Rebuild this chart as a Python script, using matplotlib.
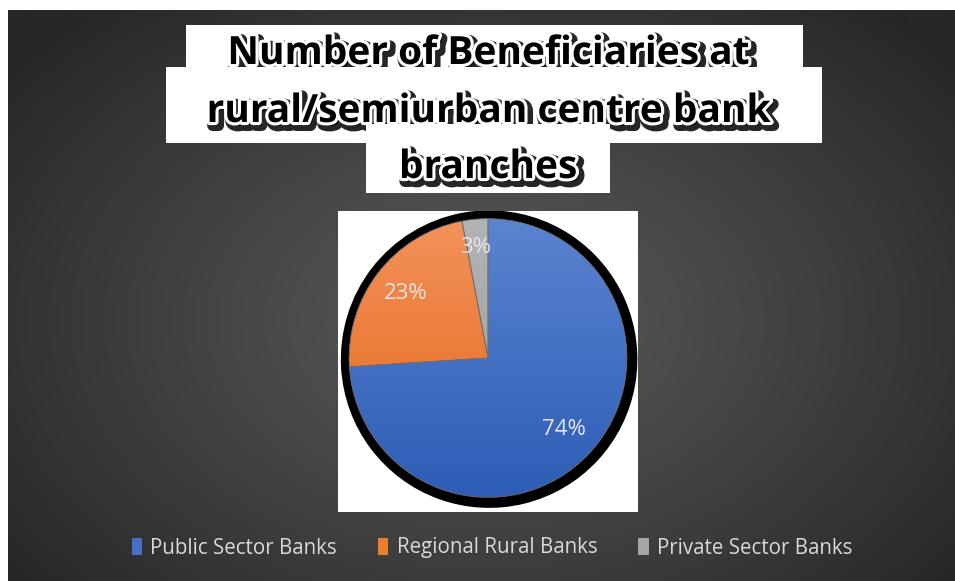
import matplotlib
matplotlib.use("Agg")
import matplotlib.pyplot as plt
import matplotlib.patheffects as pe
from matplotlib.patches import Rectangle, Wedge, Patch
import numpy as np

# data
categories = ["Public Sector Banks", "Regional Rural Banks", "Private Sector Banks"]
shares = [74, 23, 3]
title_lines = ["Number of Beneficiaries at", "rural/semiurban centre bank", "branches"]

# slice gradients (top colour, bottom colour)
grad_top = ["#5b84d0", "#f3925a", "#b3b3b3"]
grad_bot = ["#2d5db6", "#e4661a", "#9b9b9b"]
legend_cols = ["#4472c4", "#ed7d31", "#a5a5a5"]

W, H = 955, 581
fig = plt.figure(figsize=(W / 100, H / 100), dpi=100, facecolor="white")

# full-figure axes in pixel units for the backdrop and title boxes
bg = fig.add_axes([0, 0, 1, 1])
bg.set_xlim(0, W)
bg.set_ylim(H, 0)
bg.axis("off")

# radial grey gradient behind everything
yy, xx = np.mgrid[10:H, 8:W]
d = np.sqrt(((xx - 485) / 520.0) ** 2 + ((yy - 320) / 360.0) ** 2)
v = 0x5a - (0x5a - 0x27) * np.clip(d / 1.15, 0, 1) ** 1.1
img = np.dstack([v, v, v]) / 255.0
bg.imshow(img, extent=[8, W, H, 10], aspect="auto", zorder=0, interpolation="bilinear")

title_fx = [
    pe.Stroke(linewidth=8, foreground="black", offset=(2.2, -2.5), alpha=0.85),
    pe.Stroke(linewidth=4.5, foreground="white"),
    pe.Normal(),
]
boxes = [(186, 25, 617, 42), (166, 67, 656, 76), (366, 124, 244, 69)]
baselines = [64, 122, 178]
for i, (line, box, yb) in enumerate(zip(title_lines, boxes, baselines)):
    bg.add_patch(Rectangle(box[:2], box[2], box[3], facecolor="white",
                           edgecolor="none", zorder=1 + 2 * i))
    bg.text(488, yb, line, ha="center", va="baseline", family="Open Sans",
            fontweight="bold", fontsize=28, color="black",
            path_effects=title_fx, zorder=2 + 2 * i)

# pie area
ax = fig.add_axes([338 / W, 1 - 512 / H, 300 / W, 301 / H])
center = (0.0, 0.025)
wedges, _, autotexts = ax.pie(
    shares, startangle=90, counterclock=False, center=center, radius=1.0,
    colors=legend_cols, autopct="%d%%", pctdistance=0.75,
    wedgeprops=dict(edgecolor="none", linewidth=0),
    textprops=dict(color="#e6e6e6", fontsize=16, family="Open Sans"),
)
ax.set_frame_on(True)
ax.set_facecolor("white")
for s in ax.spines.values():
    s.set_visible(False)
ax.set_xticks([])
ax.set_yticks([])
ax.set_xlim(-1.08, 1.08)
ax.set_ylim(-1.08, 1.08)
ax.set_aspect("auto")

# black halo behind each slice
for w in wedges:
    ax.add_patch(Wedge((center[0] + 0.008, center[1] - 0.008), 1.06, w.theta1, w.theta2,
                       facecolor="black", edgecolor="black", linewidth=1.5, zorder=0.5))

# vertical gradient fill clipped to each slice
for w, c0, c1 in zip(wedges, grad_top, grad_bot):
    a = np.array(matplotlib.colors.to_rgb(c0))
    b = np.array(matplotlib.colors.to_rgb(c1))
    t = np.linspace(0, 1, 256)[:, None]
    g = (a[None, :] * (1 - t) + b[None, :] * t)[:, None, :]
    im = ax.imshow(g, extent=[-1.0, 1.0, center[1] - 1.0, center[1] + 1.0],
                   aspect="auto", zorder=w.get_zorder() + 0.1, interpolation="bilinear")
    im.set_clip_path(w)
    w.set_edgecolor("#6f6f6f")
    w.set_linewidth(0.6)
    w.set_facecolor("none")
    w.set_zorder(w.get_zorder() + 0.2)
for t in autotexts:
    t.set_zorder(5)
autotexts[2].set_position((-0.09, 0.82))

handles = [Patch(facecolor=c, edgecolor="none") for c in legend_cols]
fig.legend(handles, categories, loc="center", bbox_to_anchor=(492 / W, 1 - 548 / H),
           ncol=3, frameon=False, labelcolor="#d9d9d9",
           prop=dict(family="Open Sans", size=14.8), handlelength=0.5,
           handleheight=0.85, handletextpad=0.4, columnspacing=2.0)

fig.savefig("out.png", dpi=100, facecolor="white")
